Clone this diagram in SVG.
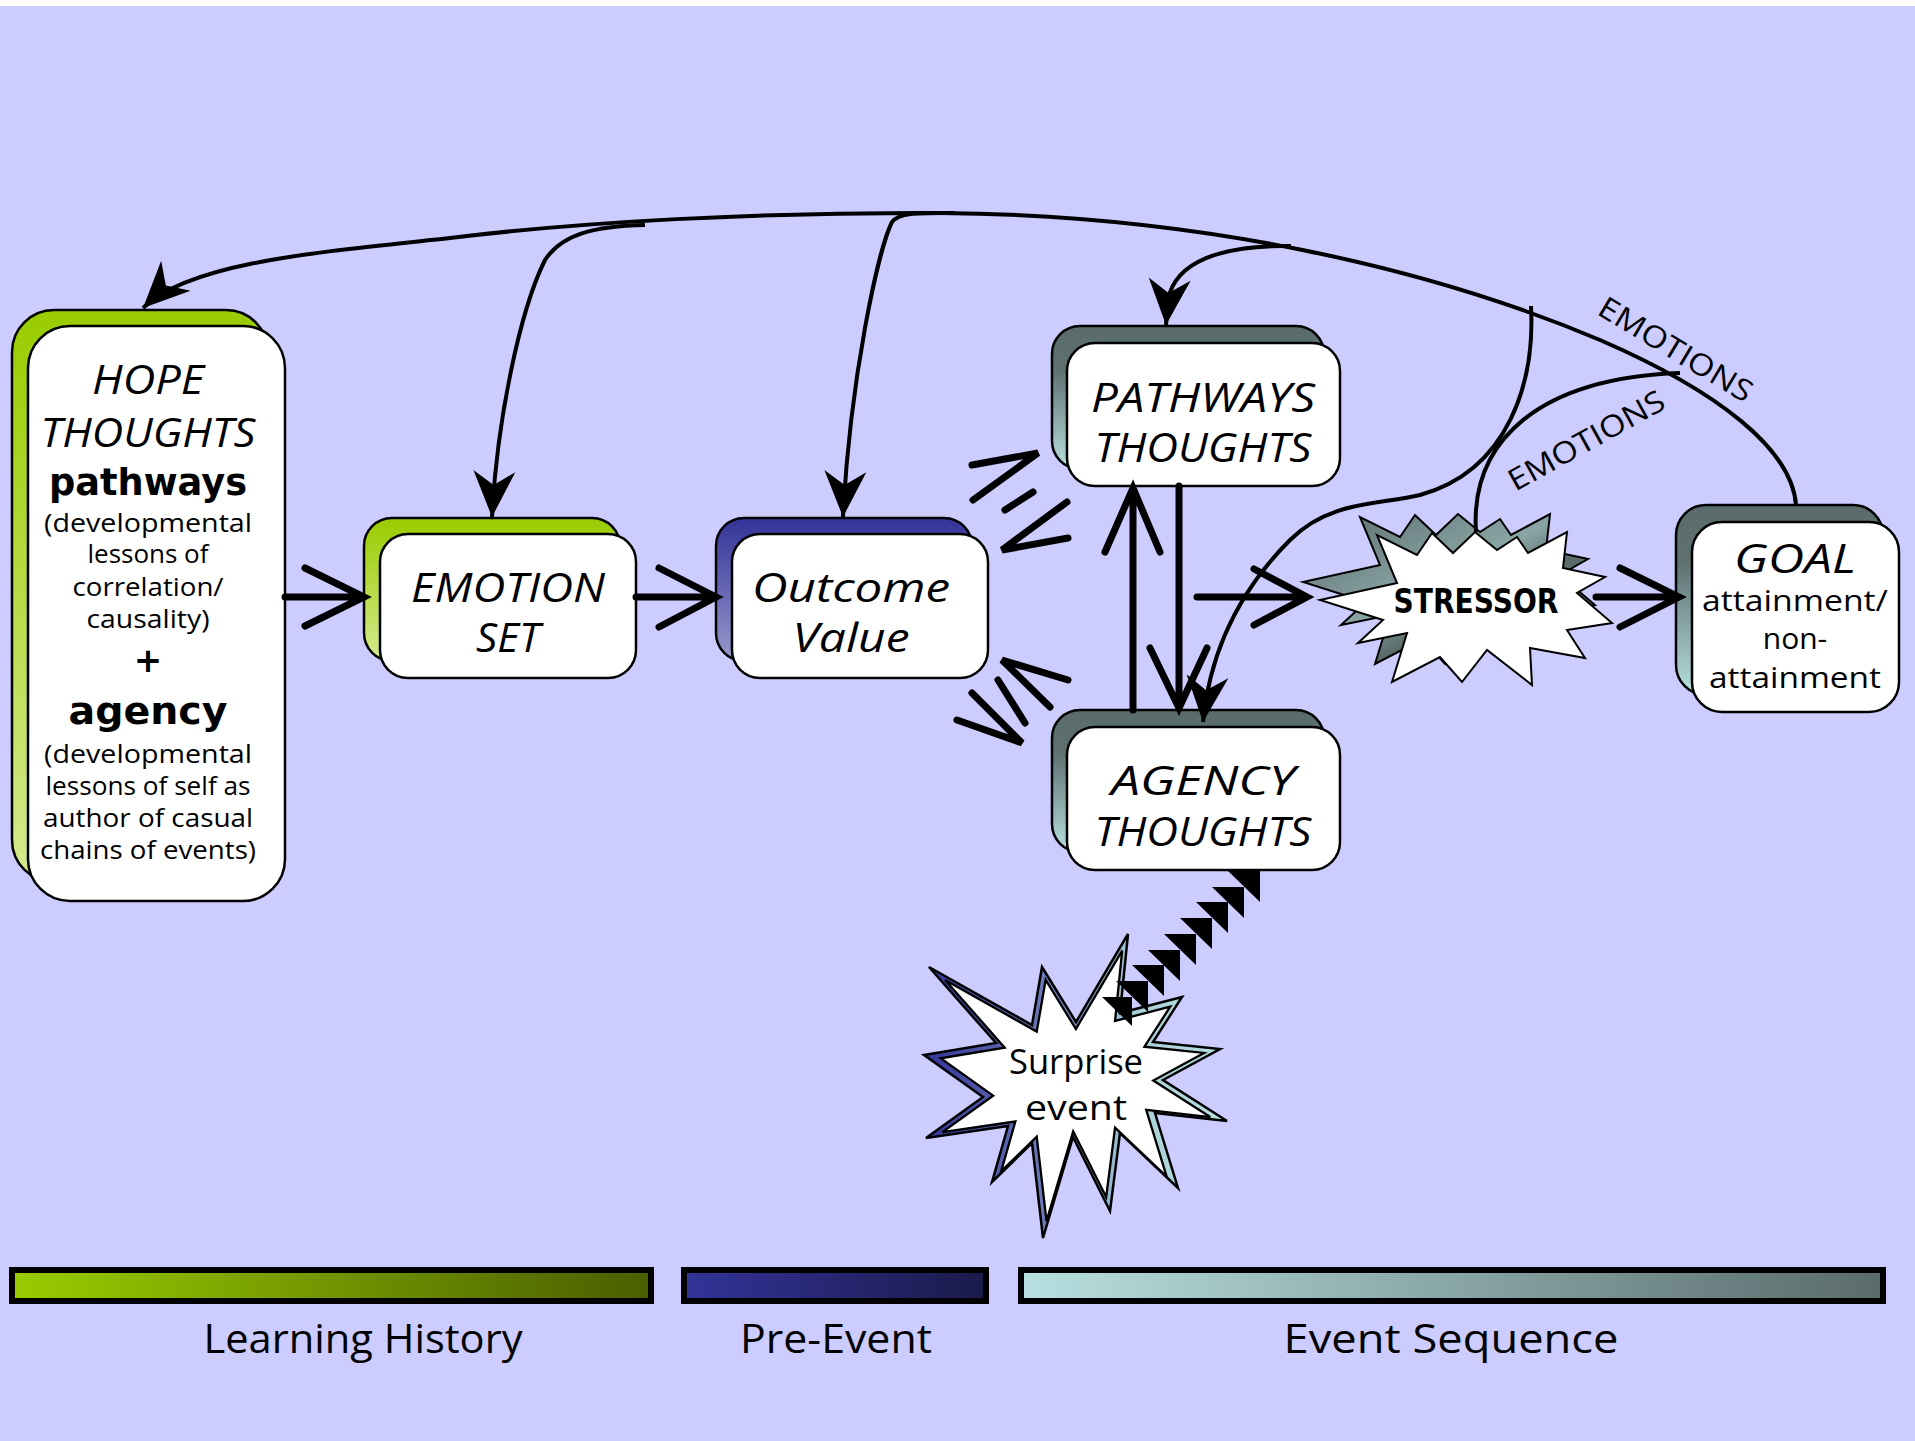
<svg xmlns="http://www.w3.org/2000/svg" width="1915" height="1441" viewBox="0 0 1915 1441">
<defs>
<style>
.t{font-family:"Open Sans","DejaVu Sans",sans-serif;fill:#000;text-anchor:middle;font-weight:400}
.ti{font-style:italic;font-size:41px}
.sm{font-size:25px}
.bd{font-family:"DejaVu Sans","Liberation Sans",sans-serif;font-weight:bold}
.box{stroke:#000;stroke-width:2.5}
.front{fill:#fff;stroke:#000;stroke-width:2.5}
.thick{fill:none;stroke:#000;stroke-width:7;stroke-linecap:round;stroke-linejoin:miter}
.thin{fill:none;stroke:#000;stroke-width:4}
.leg{stroke:#000;stroke-width:6}
</style>
<linearGradient id="gGreen" x1="0" y1="0" x2="0" y2="1"><stop offset="0" stop-color="#99CC00"/><stop offset="1" stop-color="#D6EA8F"/></linearGradient>
<linearGradient id="gBlue" x1="0" y1="0" x2="0" y2="1"><stop offset="0" stop-color="#333399"/><stop offset="1" stop-color="#9999CC"/></linearGradient>
<linearGradient id="gSlate" x1="0" y1="0" x2="0" y2="1"><stop offset="0" stop-color="#5A6B6B"/><stop offset="0.3" stop-color="#5E7070"/><stop offset="1" stop-color="#B8E0E0"/></linearGradient>
<linearGradient id="lg1" x1="0" y1="0" x2="1" y2="0"><stop offset="0" stop-color="#99CC00"/><stop offset="1" stop-color="#4A5E00"/></linearGradient>
<linearGradient id="lg2" x1="0" y1="0" x2="1" y2="0"><stop offset="0" stop-color="#333399"/><stop offset="1" stop-color="#1A1A4A"/></linearGradient>
<linearGradient id="lg3" x1="0" y1="0" x2="1" y2="0"><stop offset="0" stop-color="#B8E0E0"/><stop offset="1" stop-color="#5A6B6B"/></linearGradient>
<linearGradient id="gStress" x1="0" y1="0" x2="1" y2="1"><stop offset="0" stop-color="#5A6B6B"/><stop offset="0.45" stop-color="#8AA5A5"/><stop offset="0.6" stop-color="#5A6B6B"/><stop offset="1" stop-color="#5A6B6B"/></linearGradient>
<linearGradient id="gSurp" gradientUnits="userSpaceOnUse" x1="924" y1="0" x2="1227" y2="0"><stop offset="0" stop-color="#333399"/><stop offset="0.45" stop-color="#7383BB"/><stop offset="0.7" stop-color="#A8D0D8"/><stop offset="1" stop-color="#B8E0E0"/></linearGradient>
<polygon id="stressStar" points="1320,600 1397,583 1377,535 1417,555 1432,533 1453,553 1475,532 1497,550 1517,537 1528,553 1567,532 1563,568 1605,577 1577,593 1612,623 1567,630 1585,658 1530,648 1532,685 1487,650 1462,682 1440,657 1392,682 1407,633 1358,643 1383,620"/>
<polygon id="surpStar" points="929,967 1032,1025 1042,967 1076,1022 1128,934 1120,1013 1182,997 1153,1042 1220,1049 1163,1080 1227,1121 1155,1113 1178,1188 1120,1133 1110,1211 1073,1137 1043,1238 1032,1143 992,1182 1008,1126 926,1138 983,1097 924,1055 996,1043"/>
<marker id="ah" markerUnits="userSpaceOnUse" viewBox="-50 -25 55 50" refX="0" refY="0" markerWidth="55" markerHeight="50" orient="auto"><path d="M0,0 L-46,-21 L-32,0 L-46,21 Z" fill="#000"/></marker>
</defs>

<rect x="0" y="0" width="1915" height="1441" fill="#FFFFFF"/>
<rect x="0" y="6" width="1915" height="1435" fill="#CCCCFF"/>

<g id="hope">
<rect x="12" y="310" width="256" height="572" rx="42" fill="url(#gGreen)" class="box"/>
<rect x="28" y="326" width="257" height="575" rx="42" class="front"/>
<text class="t ti" x="148" y="394" font-size="42" textLength="112" lengthAdjust="spacingAndGlyphs">HOPE</text>
<text class="t ti" x="148" y="447" font-size="42" textLength="215" lengthAdjust="spacingAndGlyphs">THOUGHTS</text>
<text class="t bd" x="148" y="495" font-size="38" textLength="198" lengthAdjust="spacingAndGlyphs">pathways</text>
<text class="t sm" x="148" y="532" textLength="208" lengthAdjust="spacingAndGlyphs">(developmental</text>
<text class="t sm" x="148" y="563" textLength="121" lengthAdjust="spacingAndGlyphs">lessons of</text>
<text class="t sm" x="148" y="596" textLength="151" lengthAdjust="spacingAndGlyphs">correlation/</text>
<text class="t sm" x="148" y="628" textLength="123" lengthAdjust="spacingAndGlyphs">causality)</text>
<text class="t bd" x="148" y="672" font-size="34">+</text>
<text class="t bd" x="148" y="724" font-size="38" textLength="159" lengthAdjust="spacingAndGlyphs">agency</text>
<text class="t sm" x="148" y="763" textLength="208" lengthAdjust="spacingAndGlyphs">(developmental</text>
<text class="t sm" x="148" y="795" textLength="205" lengthAdjust="spacingAndGlyphs">lessons of self as</text>
<text class="t sm" x="148" y="827" textLength="210" lengthAdjust="spacingAndGlyphs">author of casual</text>
<text class="t sm" x="148" y="859" textLength="216" lengthAdjust="spacingAndGlyphs">chains of events)</text>
</g>

<g id="emotion-set">
<rect x="364" y="518" width="256" height="143" rx="28" fill="url(#gGreen)" class="box"/>
<rect x="380" y="534" width="256" height="144" rx="28" class="front"/>
<text class="t ti" x="508" y="602" textLength="194" lengthAdjust="spacingAndGlyphs">EMOTION</text>
<text class="t ti" x="508" y="652" textLength="64" lengthAdjust="spacingAndGlyphs">SET</text>
</g>

<g id="outcome-value">
<rect x="716" y="518" width="256" height="143" rx="28" fill="url(#gBlue)" class="box"/>
<rect x="732" y="534" width="256" height="144" rx="28" class="front"/>
<text class="t ti" x="851" y="602" textLength="198" lengthAdjust="spacingAndGlyphs">Outcome</text>
<text class="t ti" x="851" y="652" textLength="117" lengthAdjust="spacingAndGlyphs">Value</text>
</g>

<g id="pathways-thoughts">
<rect x="1052" y="326" width="272" height="143" rx="28" fill="url(#gSlate)" class="box"/>
<rect x="1067" y="343" width="273" height="143" rx="28" class="front"/>
<text class="t ti" x="1203" y="412" textLength="224" lengthAdjust="spacingAndGlyphs">PATHWAYS</text>
<text class="t ti" x="1203" y="462" textLength="217" lengthAdjust="spacingAndGlyphs">THOUGHTS</text>
</g>

<g id="agency-thoughts">
<rect x="1052" y="710" width="272" height="142" rx="28" fill="url(#gSlate)" class="box"/>
<rect x="1067" y="727" width="273" height="143" rx="28" class="front"/>
<text class="t ti" x="1203" y="795" textLength="184" lengthAdjust="spacingAndGlyphs">AGENCY</text>
<text class="t ti" x="1203" y="846" textLength="217" lengthAdjust="spacingAndGlyphs">THOUGHTS</text>
</g>

<g id="goal">
<rect x="1676" y="505" width="207" height="190" rx="30" fill="url(#gSlate)" class="box"/>
<rect x="1692" y="522" width="207" height="190" rx="30" class="front"/>
<text class="t ti" x="1795" y="573" font-size="42" textLength="122" lengthAdjust="spacingAndGlyphs">GOAL</text>
<text class="t" x="1795" y="611" font-size="30" textLength="186" lengthAdjust="spacingAndGlyphs">attainment/</text>
<text class="t" x="1795" y="649" font-size="30">non-</text>
<text class="t" x="1795" y="688" font-size="30" textLength="172" lengthAdjust="spacingAndGlyphs">attainment</text>
</g>

<g id="stressor">
<use href="#stressStar" transform="translate(-17 -18)" fill="url(#gStress)" stroke="#000" stroke-width="2"/>
<use href="#stressStar" fill="#FFFFFF" stroke="#000" stroke-width="2"/>
<text class="t bd" x="1476" y="613" font-size="34" textLength="165" lengthAdjust="spacingAndGlyphs">STRESSOR</text>
</g>

<g id="surprise-event">
<use href="#surpStar" fill="url(#gSurp)" stroke="#000" stroke-width="2.5"/>
<use href="#surpStar" transform="translate(1075 1085) scale(0.89) translate(-1075 -1085)" fill="#FFFFFF" stroke="#000" stroke-width="2.6"/>
<text class="t" x="1076" y="1074" font-size="34" textLength="134" lengthAdjust="spacingAndGlyphs">Surprise</text>
<text class="t" x="1076" y="1120" font-size="34" textLength="102" lengthAdjust="spacingAndGlyphs">event</text>
</g>

<g id="connectors">
<path class="thin" d="M1796,505 C1792,450 1720,392 1600,340 C1430,268 1200,215 940,213 C760,212 580,222 450,238 C320,252 190,262 143,308" marker-end="url(#ah)"/>
<path class="thin" d="M645,225 C595,226 562,234 545,260 C520,310 497,420 492,517" marker-end="url(#ah)"/>
<path class="thin" d="M955,213 C920,213 900,212 892,222 C878,250 850,380 843,517" marker-end="url(#ah)"/>
<path class="thin" d="M1291,246 C1220,245 1175,262 1168,300 L1166,325" marker-end="url(#ah)"/>
<path class="thin" d="M1531,306 C1535,380 1510,470 1420,495 C1380,505 1330,500 1290,540 C1240,590 1210,650 1203,722" marker-end="url(#ah)"/>
<path class="thin" d="M1476,532 C1470,440 1540,378 1680,373"/>
<text class="t" transform="translate(1676 349) rotate(31)" x="0" y="11" font-size="30" textLength="174" lengthAdjust="spacingAndGlyphs">EMOTIONS</text>
<text class="t" transform="translate(1586 440) rotate(-29)" x="0" y="11" font-size="30" textLength="174" lengthAdjust="spacingAndGlyphs">EMOTIONS</text>

<path class="thick" d="M285,597 H364 M305,568 L364,597 L305,626"/>
<path class="thick" d="M636,597 H716 M659,568 L716,597 L659,627"/>
<path class="thick" d="M972,465 L1038,453 L973,500 M1005,510 L1033,492 M1067,502 L1002,550 L1068,538"/>
<path class="thick" d="M1068,680 L1002,660 L1050,707 M998,680 L1025,723 M957,720 L1022,743 L972,693"/>
<path class="thick" d="M1133,710 V490 M1105,552 L1133,488 L1160,552"/>
<path class="thick" d="M1179,486 V706 M1150,648 L1179,708 L1207,648"/>
<path class="thick" d="M1197,597 H1305 M1254,569 L1307,597 L1254,625"/>
<path class="thick" d="M1596,597 H1677 M1620,568 L1679,597 L1620,627"/>

<path fill="#000" d="M1228,871 L1260,871 L1260,902 Z M1212,887 L1244,887 L1244,918 Z M1196,902 L1228,902 L1228,933 Z M1180,918 L1212,918 L1212,949 Z M1164,934 L1196,934 L1196,965 Z M1148,950 L1180,950 L1180,981 Z M1132,965 L1164,965 L1164,996 Z M1116,981 L1148,981 L1148,1012 Z M1102,997 L1132,997 L1132,1026 Z"/>
</g>

<g id="legend">
<rect x="12" y="1270" width="639" height="31" fill="url(#lg1)" class="leg"/>
<rect x="684" y="1270" width="302" height="31" fill="url(#lg2)" class="leg"/>
<rect x="1021" y="1270" width="862" height="31" fill="url(#lg3)" class="leg"/>
<text class="t" x="363" y="1353" font-size="40" textLength="319" lengthAdjust="spacingAndGlyphs">Learning History</text>
<text class="t" x="836" y="1353" font-size="40" textLength="192" lengthAdjust="spacingAndGlyphs">Pre-Event</text>
<text class="t" x="1451" y="1353" font-size="40" textLength="335" lengthAdjust="spacingAndGlyphs">Event Sequence</text>
</g>
</svg>
